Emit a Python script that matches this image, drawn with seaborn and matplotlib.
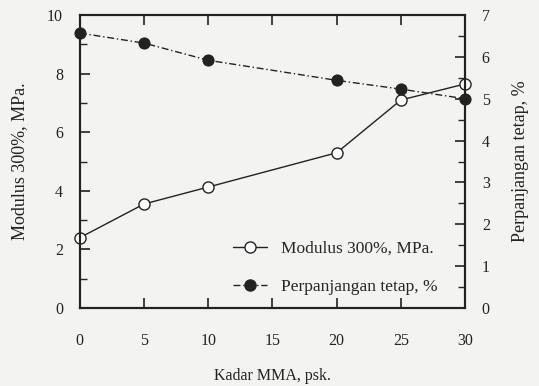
import matplotlib
matplotlib.use("Agg")
import matplotlib.pyplot as plt
import seaborn as sns
import pandas as pd
from matplotlib.ticker import MultipleLocator
from matplotlib.lines import Line2D

sns.set_style("ticks")
plt.rcParams['font.family'] = ['Liberation Serif', 'DejaVu Serif']

kadar_mma = [0, 5, 10, 20, 25, 30]
modulus_300 = [2.4, 3.55, 4.13, 5.3, 7.1, 7.65]
perpanjangan_tetap = [6.57, 6.33, 5.92, 5.44, 5.23, 5.0]

df = pd.DataFrame({"kadar": kadar_mma, "modulus": modulus_300, "perp": perpanjangan_tetap})

fig = plt.figure(figsize=(5.39, 3.86), dpi=100)
bg = "#f3f3f1"
fig.patch.set_facecolor(bg)
ax = fig.add_axes([0.148, 0.202, 0.715, 0.759])
ax.set_facecolor(bg)
ax2 = ax.twinx()

sns.lineplot(data=df, x="kadar", y="modulus", ax=ax, color="#222222", lw=1.0,
             marker="o", markersize=8, markerfacecolor="white", markeredgecolor="#222222",
             markeredgewidth=1.0, clip_on=False)
sns.lineplot(data=df, x="kadar", y="perp", ax=ax2, color="#222222", lw=1.0,
             linestyle=(0, (5, 2, 1, 2)), marker="o", markersize=8,
             markerfacecolor="#222222", markeredgecolor="#222222", clip_on=False)

ax.set_xlim(0, 30)
ax.set_ylim(0, 10)
ax2.set_ylim(0, 7)
ax.xaxis.set_major_locator(MultipleLocator(5))
ax.yaxis.set_major_locator(MultipleLocator(2))
ax.yaxis.set_minor_locator(MultipleLocator(1))
ax2.yaxis.set_major_locator(MultipleLocator(1))
ax2.yaxis.set_minor_locator(MultipleLocator(0.5))

for a in (ax, ax2):
    for s in a.spines.values():
        s.set_visible(True)
        s.set_linewidth(1.5)
        s.set_color("#222222")
ax.tick_params(axis="x", which="major", direction="in", length=7, width=1.2, top=True,
               labelsize=11.5, pad=18, colors="#222222")
ax.tick_params(axis="y", which="major", direction="in", length=7, width=1.2,
               labelsize=11.5, pad=12, colors="#222222")
ax.tick_params(axis="y", which="minor", direction="in", length=5, width=1.0)
ax2.tick_params(axis="y", which="major", direction="in", length=7, width=1.2,
                labelsize=11.5, pad=12, colors="#222222")
ax2.tick_params(axis="y", which="minor", direction="in", length=5, width=1.0)

ax.set_xlabel("Kadar MMA, psk.", fontsize=11.5, labelpad=14, color="#222222")
ax.set_ylabel("Modulus 300%, MPa.", fontsize=13, labelpad=14, color="#222222")
ax2.set_ylabel("Perpanjangan tetap, %", fontsize=13, labelpad=16, color="#222222")

handles = [
    Line2D([], [], color="#222222", lw=1.0, marker="o", markersize=8,
           markerfacecolor="white", markeredgecolor="#222222"),
    Line2D([], [], color="#222222", lw=1.0, linestyle=(0, (5, 2, 1, 2)), marker="o",
           markersize=8, markerfacecolor="#222222", markeredgecolor="#222222"),
]
ax.legend(handles, ["Modulus 300%, MPa.", "Perpanjangan tetap, %"], loc="lower right",
          bbox_to_anchor=(0.97, -0.01), frameon=False, fontsize=12.5, handlelength=2.0,
          labelspacing=1.3, handletextpad=0.8)

fig.savefig("out.png", dpi=100, facecolor=bg)
